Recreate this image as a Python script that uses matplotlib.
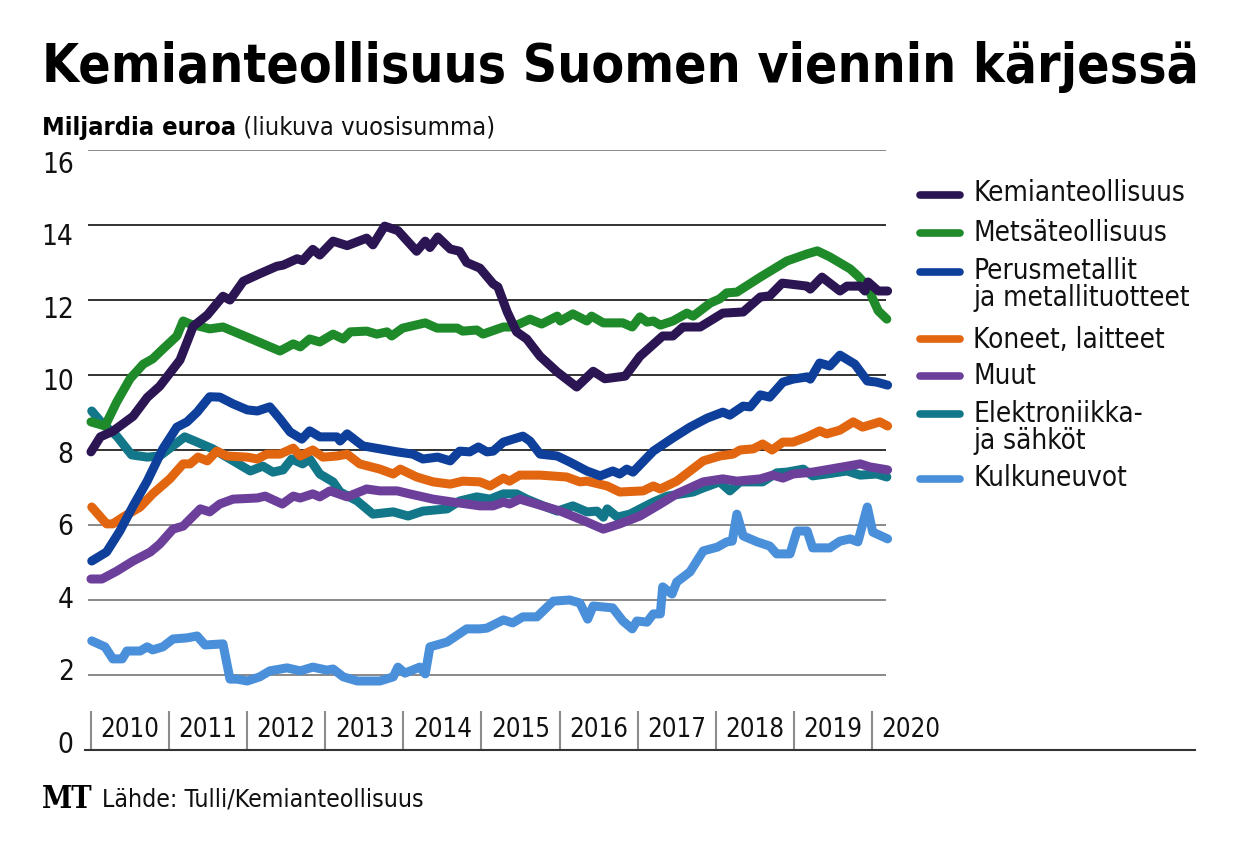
import numpy as np
import matplotlib
matplotlib.use('Agg')
import matplotlib.pyplot as plt
from matplotlib.lines import Line2D

plt.rcParams['font.family'] = ['DejaVu Sans']
plt.rcParams['font.stretch'] = 'condensed'

# (vuosi, mrd euroa) – luettu kuvasta
kemia = [(2010.0, 7.95), (2010.12, 8.35), (2010.28, 8.5), (2010.54, 8.9), (2010.72, 9.4), (2010.88, 9.7),
         (2011.14, 10.4), (2011.31, 11.3), (2011.49, 11.6), (2011.69, 12.1), (2011.78, 12.0), (2011.95, 12.5),
         (2012.16, 12.7), (2012.38, 12.9), (2012.46, 12.93), (2012.64, 13.1), (2012.71, 13.05), (2012.84, 13.35),
         (2012.93, 13.2), (2013.10, 13.57), (2013.28, 13.45), (2013.53, 13.65), (2013.61, 13.47), (2013.76, 13.97),
         (2013.93, 13.85), (2014.17, 13.3), (2014.28, 13.57), (2014.34, 13.4), (2014.44, 13.68), (2014.60, 13.36),
         (2014.72, 13.3), (2014.81, 13.0), (2014.98, 12.85), (2015.15, 12.43), (2015.21, 12.35), (2015.33, 11.68),
         (2015.45, 11.15), (2015.58, 10.96), (2015.75, 10.5), (2015.97, 10.08), (2016.22, 9.68), (2016.43, 10.1),
         (2016.58, 9.9), (2016.84, 9.97), (2017.03, 10.5), (2017.32, 11.04), (2017.45, 11.04), (2017.58, 11.28),
         (2017.80, 11.28), (2018.09, 11.65), (2018.35, 11.68), (2018.57, 12.08), (2018.69, 12.11), (2018.85, 12.45),
         (2019.17, 12.37), (2019.21, 12.29), (2019.36, 12.61), (2019.59, 12.24), (2019.68, 12.37), (2019.85, 12.37),
         (2019.91, 12.24), (2019.95, 12.48), (2020.08, 12.24), (2020.20, 12.24)]

metsa = [(2010.0, 8.75), (2010.18, 8.64), (2010.33, 9.28), (2010.50, 9.9), (2010.67, 10.29), (2010.79, 10.43),
         (2010.92, 10.69), (2011.10, 11.04), (2011.18, 11.44), (2011.27, 11.36), (2011.52, 11.23), (2011.69, 11.28),
         (2012.00, 11.01), (2012.42, 10.64), (2012.59, 10.83), (2012.68, 10.75), (2012.80, 10.96), (2012.93, 10.88),
         (2013.10, 11.09), (2013.23, 10.96), (2013.32, 11.15), (2013.53, 11.17), (2013.66, 11.09), (2013.79, 11.15),
         (2013.85, 11.04), (2013.99, 11.25), (2014.28, 11.39), (2014.43, 11.25), (2014.69, 11.25), (2014.76, 11.17),
         (2014.94, 11.2), (2015.02, 11.09), (2015.28, 11.28), (2015.40, 11.28), (2015.62, 11.49), (2015.77, 11.36),
         (2015.97, 11.57), (2016.01, 11.44), (2016.17, 11.63), (2016.35, 11.44), (2016.41, 11.57), (2016.56, 11.39),
         (2016.81, 11.39), (2016.93, 11.28), (2017.03, 11.55), (2017.12, 11.41), (2017.20, 11.44), (2017.29, 11.33),
         (2017.45, 11.44), (2017.63, 11.65), (2017.71, 11.57), (2017.93, 11.92), (2018.05, 12.03), (2018.14, 12.19),
         (2018.27, 12.21), (2018.57, 12.61), (2018.91, 13.04), (2019.17, 13.23), (2019.30, 13.31), (2019.46, 13.15),
         (2019.72, 12.83), (2019.82, 12.64), (2019.94, 12.37), (2020.01, 12.03), (2020.08, 11.71), (2020.19, 11.49)]

perus = [(2010.01, 5.04), (2010.20, 5.28), (2010.37, 5.84), (2010.54, 6.51), (2010.72, 7.17), (2010.92, 8.03),
         (2011.10, 8.61), (2011.23, 8.75), (2011.36, 9.01), (2011.52, 9.42), (2011.65, 9.41), (2011.82, 9.23),
         (2012.00, 9.07), (2012.13, 9.04), (2012.29, 9.15), (2012.42, 8.83), (2012.55, 8.48), (2012.70, 8.29),
         (2012.80, 8.51), (2012.93, 8.35), (2013.15, 8.35), (2013.19, 8.24), (2013.28, 8.43), (2013.48, 8.11),
         (2013.70, 8.03), (2013.92, 7.95), (2014.12, 7.89), (2014.25, 7.76), (2014.44, 7.81), (2014.60, 7.71),
         (2014.72, 7.97), (2014.85, 7.95), (2014.96, 8.08), (2015.07, 7.95), (2015.15, 7.97), (2015.28, 8.21),
         (2015.53, 8.37), (2015.62, 8.24), (2015.75, 7.89), (2015.97, 7.84), (2016.13, 7.68), (2016.35, 7.44),
         (2016.52, 7.31), (2016.68, 7.44), (2016.77, 7.36), (2016.86, 7.49), (2016.94, 7.41), (2017.20, 7.97),
         (2017.45, 8.32), (2017.67, 8.61), (2017.89, 8.85), (2018.09, 9.01), (2018.18, 8.93), (2018.35, 9.17),
         (2018.44, 9.15), (2018.57, 9.47), (2018.69, 9.41), (2018.86, 9.81), (2018.99, 9.89), (2019.17, 9.95),
         (2019.21, 9.89), (2019.33, 10.32), (2019.46, 10.24), (2019.59, 10.53), (2019.78, 10.29), (2019.94, 9.84),
         (2020.06, 9.81), (2020.20, 9.73)]

koneet = [(2010.01, 6.48), (2010.20, 6.03), (2010.28, 6.03), (2010.41, 6.21), (2010.63, 6.48), (2010.79, 6.83),
          (2011.01, 7.23), (2011.18, 7.63), (2011.27, 7.63), (2011.37, 7.81), (2011.49, 7.71), (2011.61, 7.97),
          (2011.74, 7.84), (2012.00, 7.81), (2012.13, 7.76), (2012.25, 7.89), (2012.42, 7.89), (2012.59, 8.05),
          (2012.68, 7.84), (2012.84, 8.0), (2012.97, 7.81), (2013.15, 7.84), (2013.28, 7.89), (2013.44, 7.63),
          (2013.70, 7.49), (2013.87, 7.36), (2013.96, 7.49), (2014.17, 7.28), (2014.38, 7.15), (2014.60, 7.09),
          (2014.76, 7.17), (2014.98, 7.15), (2015.11, 7.04), (2015.28, 7.25), (2015.36, 7.17), (2015.49, 7.33),
          (2015.75, 7.33), (2016.09, 7.28), (2016.26, 7.15), (2016.35, 7.17), (2016.61, 7.04), (2016.77, 6.88),
          (2017.07, 6.91), (2017.20, 7.04), (2017.29, 6.96), (2017.50, 7.17), (2017.67, 7.44), (2017.84, 7.71),
          (2018.05, 7.84), (2018.22, 7.89), (2018.31, 8.0), (2018.48, 8.03), (2018.60, 8.16), (2018.72, 8.0),
          (2018.86, 8.21), (2018.99, 8.21), (2019.17, 8.35), (2019.33, 8.51), (2019.42, 8.43), (2019.59, 8.53),
          (2019.76, 8.75), (2019.88, 8.61), (2020.10, 8.75), (2020.20, 8.64)]

muut = [(2010.0, 4.56), (2010.14, 4.56), (2010.33, 4.77), (2010.54, 5.04), (2010.76, 5.28), (2010.88, 5.49),
        (2011.05, 5.89), (2011.18, 5.97), (2011.40, 6.43), (2011.52, 6.35), (2011.65, 6.56), (2011.82, 6.69),
        (2012.13, 6.72), (2012.23, 6.77), (2012.45, 6.56), (2012.59, 6.77), (2012.68, 6.72), (2012.84, 6.83),
        (2012.93, 6.75), (2013.06, 6.91), (2013.28, 6.75), (2013.53, 6.96), (2013.70, 6.91), (2013.92, 6.91),
        (2014.08, 6.83), (2014.38, 6.69), (2014.64, 6.61), (2014.98, 6.51), (2015.15, 6.51), (2015.28, 6.61),
        (2015.36, 6.56), (2015.49, 6.69), (2015.75, 6.53), (2016.01, 6.37), (2016.35, 6.08), (2016.56, 5.89),
        (2016.77, 6.03), (2017.03, 6.24), (2017.29, 6.56), (2017.50, 6.83), (2017.84, 7.15), (2018.09, 7.23),
        (2018.27, 7.17), (2018.57, 7.23), (2018.73, 7.33), (2018.86, 7.25), (2018.99, 7.36), (2019.24, 7.41),
        (2019.63, 7.55), (2019.85, 7.63), (2019.97, 7.55), (2020.20, 7.47)]

elektro = [(2010.01, 9.04), (2010.12, 8.77), (2010.20, 8.61), (2010.33, 8.37), (2010.52, 7.87), (2010.72, 7.81),
           (2010.88, 7.84), (2011.05, 8.11), (2011.20, 8.35), (2011.36, 8.21), (2011.56, 8.03), (2011.78, 7.76),
           (2012.04, 7.44), (2012.20, 7.57), (2012.33, 7.41), (2012.46, 7.47), (2012.57, 7.76), (2012.71, 7.63),
           (2012.80, 7.76), (2012.93, 7.36), (2013.10, 7.15), (2013.19, 6.88), (2013.41, 6.64), (2013.61, 6.29),
           (2013.87, 6.35), (2014.06, 6.24), (2014.25, 6.37), (2014.56, 6.43), (2014.72, 6.64), (2014.94, 6.75),
           (2015.11, 6.69), (2015.28, 6.83), (2015.45, 6.83), (2015.58, 6.69), (2015.79, 6.51), (2015.97, 6.37),
           (2016.17, 6.51), (2016.35, 6.35), (2016.48, 6.37), (2016.56, 6.21), (2016.61, 6.43), (2016.74, 6.21),
           (2016.90, 6.29), (2017.03, 6.43), (2017.20, 6.61), (2017.38, 6.77), (2017.71, 6.88), (2017.84, 6.99),
           (2018.05, 7.15), (2018.18, 6.91), (2018.31, 7.15), (2018.60, 7.15), (2018.78, 7.39), (2018.91, 7.41),
           (2019.12, 7.49), (2019.24, 7.31), (2019.42, 7.36), (2019.68, 7.44), (2019.85, 7.33), (2020.06, 7.36),
           (2020.19, 7.28)]

kulku = [(2010.01, 2.91), (2010.18, 2.75), (2010.28, 2.43), (2010.40, 2.43), (2010.46, 2.64), (2010.63, 2.64),
         (2010.72, 2.75), (2010.79, 2.67), (2010.92, 2.75), (2011.05, 2.96), (2011.23, 2.99), (2011.36, 3.04),
         (2011.46, 2.8), (2011.69, 2.83), (2011.78, 1.89), (2011.87, 1.89), (2012.00, 1.84), (2012.16, 1.95),
         (2012.29, 2.11), (2012.51, 2.19), (2012.68, 2.11), (2012.84, 2.21), (2013.02, 2.13), (2013.10, 2.16),
         (2013.23, 1.95), (2013.41, 1.84), (2013.70, 1.84), (2013.87, 1.95), (2013.93, 2.21), (2014.02, 2.05),
         (2014.21, 2.21), (2014.28, 2.03), (2014.34, 2.75), (2014.56, 2.88), (2014.81, 3.23), (2014.98, 3.23),
         (2015.07, 3.25), (2015.28, 3.47), (2015.40, 3.39), (2015.53, 3.55), (2015.71, 3.55), (2015.92, 3.97),
         (2016.13, 4.0), (2016.26, 3.92), (2016.36, 3.49), (2016.43, 3.84), (2016.68, 3.79), (2016.81, 3.44),
         (2016.93, 3.23), (2016.99, 3.44), (2017.12, 3.41), (2017.20, 3.63), (2017.29, 3.63), (2017.32, 4.35),
         (2017.44, 4.16), (2017.50, 4.48), (2017.67, 4.75), (2017.84, 5.31), (2018.02, 5.41), (2018.14, 5.55),
         (2018.21, 5.57), (2018.27, 6.29), (2018.35, 5.71), (2018.53, 5.55), (2018.69, 5.44), (2018.78, 5.23),
         (2018.95, 5.23), (2019.04, 5.84), (2019.17, 5.84), (2019.24, 5.39), (2019.46, 5.39), (2019.59, 5.57),
         (2019.72, 5.63), (2019.82, 5.55), (2019.94, 6.48), (2020.01, 5.81), (2020.20, 5.63)]

sarjat = [
    ('Kemianteollisuus', kemia, '#2b1552'),
    ('Metsäteollisuus', metsa, '#1f8a2a'),
    ('Perusmetallit\nja metallituotteet', perus, '#0e3f9a'),
    ('Koneet, laitteet', koneet, '#e2650f'),
    ('Muut', muut, '#6c3f9b'),
    ('Elektroniikka-\nja sähköt', elektro, '#13778a'),
    ('Kulkuneuvot', kulku, '#4a8fda'),
]
# piirtojärjestys (alimmainen ensin)
piirto = [6, 5, 4, 3, 2, 1, 0]

vuodet = list(range(2010, 2021))
y_arvot = [0, 2, 4, 6, 8, 10, 12, 14, 16]

W, H = 1240, 854
fig = plt.figure(figsize=(W / 100, H / 100), dpi=100)
ax = fig.add_axes([88 / W, 1 - 751 / H, 800 / W, 600 / H])
ax.set_xlim(2009.962, 2020.205)
ax.set_ylim(0, 16)
ax.axis('off')

# vaakaviivat
for v in y_arvot[1:]:
    c = '#222222' if 8 <= v <= 14 else '#808080'
    ax.hlines(v, 2009.962, 2020.18, color=c, lw=1.3, zorder=1)

# y-akselin luvut
for v in y_arvot:
    ax.text(-0.018, 0.16 + 0.967 * v, str(v), transform=ax.get_yaxis_transform(),
            ha='right', va='center', fontsize=20, color='#111111')

# vuosijaot ja vuosiluvut
ax.vlines(vuodet, 0, 1.04, color='#8c8c8c', lw=1.5, zorder=1)
for y in vuodet:
    ax.text(y + 0.5, 0.55, str(y), ha='center', va='center', fontsize=18.5, color='#111111', clip_on=False)

# alaviiva
fig.add_artist(Line2D([85 / W, 1195 / W], [1 - 751 / H] * 2, color='#333333', lw=1.5))

for i in piirto:
    nimi, data, vari = sarjat[i]
    t, arvo = np.array(data).T
    ax.plot(t, arvo, color=vari, lw=6.5, solid_joinstyle='round', solid_capstyle='round',
            clip_on=False, zorder=3)

# selite
selite_y = [(196, 193), (234, 233), (273, 284.5), (340, 340), (377, 376), (415, 427.5), (480, 478)]
for (nimi, data, vari), (hy, ty) in zip(sarjat, selite_y):
    fig.add_artist(Line2D([920 / W, 960 / W], [1 - hy / H] * 2, color=vari, lw=5.5, solid_capstyle='round'))
    fig.text(973 / W, 1 - ty / H, nimi, ha='left', va='center', fontsize=20, linespacing=0.95,
             color='#111111')

# otsikot
fig.text(42 / W, 1 - 67 / H, 'Kemianteollisuus Suomen viennin kärjessä', ha='left', va='center',
         fontsize=38.3, fontweight='bold', color='#000000')
t1 = fig.text(42 / W, 1 - 140 / H, 'Miljardia euroa', ha='left', va='bottom', fontsize=18.3,
              fontweight='bold', color='#000000')
ax.annotate(' (liukuva vuosisumma)', xy=(1, 0), xycoords=t1, ha='left', va='bottom', fontsize=18.3,
            color='#111111', annotation_clip=False)

# lähde
fig.text(42 / W, 1 - 800 / H, 'MT', ha='left', va='center', fontsize=22, fontweight='bold',
         family='DejaVu Serif', color='#000000')
fig.text(102 / W, 1 - 800 / H, 'Lähde: Tulli/Kemianteollisuus', ha='left', va='center', fontsize=17.8,
         color='#111111')

fig.savefig('out.png', dpi=100, facecolor='white')
